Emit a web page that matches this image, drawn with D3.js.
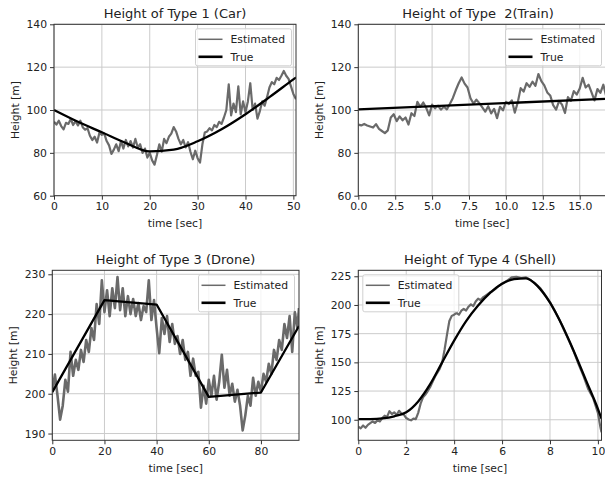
<!DOCTYPE html>
<html>
<head>
<meta charset="utf-8">
<script src="https://cdn.jsdelivr.net/npm/d3@7"></script>
<style>
    body{ margin:0; background:#fff; }
    text{ font-family:"DejaVu Sans", sans-serif; fill:#222; white-space:pre; }
</style>
</head>
<body>
<svg id="chart" width="605" height="478"></svg>
<script>
// ---- data ----
var carTrue = [[0,100],[5,94.5],[10,89.6],[15,84.6],[20,80.7],[25,81.5],[30,85.4],[35,91],[40,98],[45,106],[50,114.3],[50.55,115.2]];
var carEst = [
    [0,94.5],[0.5,93.2],[1,95],[1.5,92.5],[2,91],[2.5,94],[3,93.5],[3.5,95.8],[4,93],[4.5,94.8],
    [5,92.8],[5.5,95],[6,92],[6.5,90.8],[7,91.5],[7.5,88],[8,86],[8.5,87.5],[9,84.8],[9.5,89.5],
    [10,88.4],[10.5,89],[11,85.5],[11.5,83.5],[12,79.5],[12.5,81.5],[13,84],[13.5,80.8],[14,85.5],[14.5,82],
    [15,86],[15.5,83],[16,85.5],[16.5,82.5],[17,86.5],[17.5,82.5],[18,84],[18.5,80],[19,82],[19.5,77.8],
    [20,80],[20.5,76.5],[21,74.5],[21.5,79],[22,84],[22.5,80.5],[23,86.5],[23.5,84.5],[24,87.5],[24.5,89],
    [25,92],[25.5,90],[26,86.5],[26.5,84],[27,86],[27.5,82.5],[28,85],[28.5,80.5],[29,77],[29.5,81],
    [30,77.5],[30.5,75.5],[31,84],[31.5,89.5],[32,90],[32.5,91.5],[33,90.5],[33.5,93],[34,92],[34.5,94.5],
    [35,93.5],[35.5,96.5],[36,100],[36.5,112],[37,97.5],[37.5,103],[38,99],[38.5,111],[39,98],[39.5,104],
    [40,99],[40.5,104],[41,112.5],[41.5,100],[42,103],[42.5,96],[43,99.5],[43.5,104],[44,102],[44.5,106],
    [45,110.5],[45.5,113],[46,112],[46.5,115],[47,114],[47.5,116],[48,118.2],[48.5,116],[49,114.5],[49.5,111],
    [50,107.5],[50.55,105]
];

var trainTrue = [[0,100.3],[16.78,105.2]];
var trainEst = [
    [0,93.2],[0.2,92.8],[0.4,93.5],[0.6,92.8],[0.8,92.3],[1,91.8],[1.2,93.4],[1.4,91.2],[1.6,90.2],[1.8,89.2],
    [2,90.5],[2.2,96.5],[2.4,98],[2.6,94.8],[2.8,97],[3,95.2],[3.2,96.5],[3.4,93.2],[3.6,98.5],[3.8,97.2],
    [4,103.8],[4.2,101.5],[4.4,103.5],[4.6,101],[4.8,97.5],[5,102.5],[5.2,100.8],[5.4,102],[5.6,100.2],[5.8,101.5],
    [6,100.3],[6.2,102.8],[6.4,105.5],[6.6,109.2],[6.8,112.5],[7,115.2],[7.2,112.3],[7.4,110.5],[7.6,105.5],[7.8,103],
    [8,104.8],[8.2,103.2],[8.4,101.2],[8.6,99.2],[8.8,101.8],[9,98.4],[9.2,100.5],[9.4,96.2],[9.6,101.5],[9.8,99.8],
    [10,103.8],[10.2,102.8],[10.4,104.5],[10.6,98.8],[10.8,103.5],[11,110.2],[11.2,108.6],[11.4,112.5],[11.6,110.8],[11.8,113.2],
    [12,111.3],[12.2,116.8],[12.4,113.5],[12.6,111.5],[12.8,108.2],[13,106.8],[13.2,102.3],[13.4,100.2],[13.6,104.2],[13.8,102.5],
    [14,98.6],[14.2,106],[14.4,104.3],[14.6,108.8],[14.8,107.2],[15,110],[15.2,115],[15.4,110.5],[15.6,111.8],[15.8,108.2],
    [16,104.5],[16.2,109.8],[16.4,108],[16.6,111.8],[16.78,106.8]
];

var droneTrue = [[0,200.4],[20,223.5],[40,222.4],[60,199.2],[80,200.3],[94.6,217]];
var droneEst = [
    [0,200.5],[1,204.8],[2,199.5],[3,193.5],[4,197],[5,203.5],[6,200.5],[7,210.5],[8,204.5],[9,208.5],
    [10,206],[11,211],[12,208],[13,213.5],[14,210.5],[15,216.5],[16,213.5],[17,222.5],[18,217.5],[19,228.5],
    [20,220.5],[21,226],[22,219.5],[23,226.5],[24,221.5],[25,229.3],[26,221],[27,226.5],[28,219.5],[29,224.5],
    [30,220],[31,223.8],[32,219.5],[33,222.8],[34,218.5],[35,222],[36,220.5],[37,228.5],[38,218.5],[39,223.5],
    [40,216.5],[41,210.2],[42,219],[43,215],[44,219.5],[45,213],[46,217.5],[47,212.5],[48,214.5],[49,210],
    [50,213.5],[51,208.5],[52,210.5],[53,204.5],[54,208.8],[55,204.5],[56,205.5],[57,196.5],[58,202],[59,197.5],
    [60,203.5],[61,199.5],[62,204.5],[63,198.5],[64,203],[65,209.8],[66,201.5],[67,206],[68,199.5],[69,202.5],
    [70,198],[71,201],[72,197],[73,190.8],[74,194.5],[75,199.5],[76,197],[77,204],[78,199.5],[79,203],
    [80,200.5],[81,205],[82,203],[83,207.5],[84,205],[85,211],[86,208.5],[87,213.5],[88,211],[89,217.5],
    [90,214],[91,219.5],[92,210.5],[93,220.5],[94,216.5],[94.6,221.5]
];

var shellTrue = [[0,100.5],[0.5,100.6],[1,101.2],[1.5,103],[2,106.5],[2.5,116],[3,131],[3.5,150],[4,169],[4.5,186],
    [5,199.5],[5.5,210.5],[6,218.5],[6.5,222.5],[7,223.2],[7.5,216],[8,202],[8.5,182.5],[9,159.5],[9.5,134.5],
    [10,109.5],[10.15,101]];
var shellEst = [
    [0,94],[0.1,92.5],[0.2,95],[0.3,93],[0.4,95.5],[0.5,97],[0.6,98.5],[0.7,97.2],[0.8,99.5],[0.9,98.5],
    [1,101.5],[1.1,103.5],[1.2,102.5],[1.3,107.5],[1.4,105],[1.5,106.5],[1.6,104.2],[1.7,107.8],[1.8,105.5],[1.9,104.5],
    [2,101.5],[2.1,100.2],[2.2,99.5],[2.3,101],[2.4,100.5],[2.5,106],[2.6,114],[2.7,119.5],[2.8,122],[2.9,125],
    [3,128.5],[3.1,133],[3.2,137.5],[3.3,141],[3.4,144.5],[3.5,150],[3.6,161],[3.7,174],[3.8,186],[3.9,190.5],
    [4,191.5],[4.1,193],[4.2,191.5],[4.3,195],[4.4,196.5],[4.5,195.2],[4.6,198.5],[4.7,200.5],[4.8,199],[4.9,203],
    [5,205.5],[5.1,204.2],[5.2,206.5],[5.3,208],[5.4,209.5],[5.5,211],[5.6,212],[5.7,213.5],[5.8,215.5],[5.9,217],
    [6,218.5],[6.2,221],[6.4,224],[6.6,224.5],[6.8,223.5],[7,224],[7.2,221.5],[7.4,218.5],[7.6,214.5],[7.8,208.5],
    [8,202.5],[8.2,195],[8.4,187],[8.6,177.5],[8.8,168.5],[9,159],[9.2,148],[9.4,138],[9.6,126.5],[9.8,119],
    [10,106],[10.1,94],[10.15,89]
];

var carXTicks = [0, 10, 20, 30, 40, 50];
var carYTicks = [60, 80, 100, 120, 140];
var trainXTicks = [0, 2.5, 5, 7.5, 10, 12.5, 15];
var droneXTicks = [0, 20, 40, 60, 80];
var droneYTicks = [190, 200, 210, 220, 230];
var shellXTicks = [0, 2, 4, 6, 8, 10];
var shellYTicks = [100, 125, 150, 175, 200, 225];

var legendNames = ['Estimated', 'True'];

// ---- drawing ----
var svg = d3.select('#chart');
var EST_COLOR = '#6a6a6a',
    GRID_COLOR = '#cbcbcb',
    FONT = 10.8;

function drawPanel( p, idx ){
    var b = p.box,
        x = d3.scaleLinear().domain( p.xDomain ).range( [b.left, b.right] ),
        y = d3.scaleLinear().domain( p.yDomain ).range( [b.bottom, b.top] ),
        g = svg.append( 'g' ),
        clipId = 'clip' + idx;

    svg.append( 'clipPath' ).attr( 'id', clipId )
        .append( 'rect' )
        .attr( 'x', b.left ).attr( 'y', b.top )
        .attr( 'width', b.right - b.left ).attr( 'height', b.bottom - b.top );

    // grid
    g.append( 'g' ).selectAll( 'line' ).data( p.xTicks ).enter().append( 'line' )
        .attr( 'x1', function( d ){ return x(d); } ).attr( 'x2', function( d ){ return x(d); } )
        .attr( 'y1', b.top ).attr( 'y2', b.bottom )
        .attr( 'stroke', GRID_COLOR ).attr( 'stroke-width', 1 );
    g.append( 'g' ).selectAll( 'line' ).data( p.yTicks ).enter().append( 'line' )
        .attr( 'y1', function( d ){ return y(d); } ).attr( 'y2', function( d ){ return y(d); } )
        .attr( 'x1', b.left ).attr( 'x2', b.right )
        .attr( 'stroke', GRID_COLOR ).attr( 'stroke-width', 1 );

    var line = d3.line()
        .x( function( d ){ return x(d[0]); } )
        .y( function( d ){ return y(d[1]); } );

    var plot = g.append( 'g' ).attr( 'clip-path', 'url(#' + clipId + ')' );
    plot.append( 'path' ).datum( p.est )
        .attr( 'd', line )
        .attr( 'fill', 'none' ).attr( 'stroke', EST_COLOR )
        .attr( 'stroke-width', p.estWidth || 2.2 ).attr( 'stroke-linejoin', 'round' );
    plot.append( 'path' ).datum( p.truth )
        .attr( 'd', line.curve( p.smooth ? d3.curveMonotoneX : d3.curveLinear ) )
        .attr( 'fill', 'none' ).attr( 'stroke', '#000' )
        .attr( 'stroke-width', 2.3 ).attr( 'stroke-linejoin', 'round' );

    // frame
    g.append( 'rect' )
        .attr( 'x', b.left ).attr( 'y', b.top )
        .attr( 'width', b.right - b.left ).attr( 'height', b.bottom - b.top )
        .attr( 'fill', 'none' ).attr( 'stroke', '#333' ).attr( 'stroke-width', 1 );

    // axes
    var xAxis = g.append( 'g' )
        .attr( 'transform', 'translate(0,' + b.bottom + ')' )
        .call( d3.axisBottom( x ).tickValues( p.xTicks ).tickFormat( p.xFormat ).tickSize( 4 ).tickPadding( 3 ) );
    var yAxis = g.append( 'g' )
        .attr( 'transform', 'translate(' + b.left + ',0)' )
        .call( d3.axisLeft( y ).tickValues( p.yTicks ).tickFormat( d3.format( 'd' ) ).tickSize( 4 ).tickPadding( 3 ) );
    [xAxis, yAxis].forEach( function( a ){
        a.select( '.domain' ).remove();
        a.selectAll( 'line' ).attr( 'stroke', '#333' );
        a.selectAll( 'text' ).style( 'font-size', FONT + 'px' ).attr( 'fill', '#222' )
            .style( 'font-family', '"DejaVu Sans", sans-serif' );
    } );

    // titles and labels
    g.append( 'text' )
        .attr( 'x', p.titleX ).attr( 'y', b.top - 6.5 )
        .attr( 'text-anchor', 'middle' ).style( 'font-size', '13px' )
        .attr( 'xml:space', 'preserve' )
        .text( p.title );
    g.append( 'text' )
        .attr( 'x', ( b.left + b.right ) / 2 ).attr( 'y', b.bottom + 31.5 )
        .attr( 'text-anchor', 'middle' ).style( 'font-size', FONT + 'px' )
        .text( 'time [sec]' );
    g.append( 'text' )
        .attr( 'transform', 'translate(' + ( b.left - 35.5 ) + ',' + ( ( b.top + b.bottom ) / 2 ) + ') rotate(-90)' )
        .attr( 'text-anchor', 'middle' ).style( 'font-size', FONT + 'px' )
        .text( 'Height [m]' );

    // legend
    var lw = 96, lh = 37,
        lx = p.legendLeft ? b.left + 4.5 : b.right - 4.5 - lw,
        ly = b.top + 4.5,
        lg = g.append( 'g' ).attr( 'transform', 'translate(' + lx + ',' + ly + ')' );
    lg.append( 'rect' )
        .attr( 'width', lw ).attr( 'height', lh ).attr( 'rx', 2 )
        .attr( 'fill', '#fff' ).attr( 'fill-opacity', 0.8 )
        .attr( 'stroke', '#d0d0d0' ).attr( 'stroke-width', 1 );
    legendNames.forEach( function( name, i ){
        var yy = 10.5 + i * 17.5;
        lg.append( 'line' )
            .attr( 'x1', 3 ).attr( 'x2', 27 ).attr( 'y1', yy ).attr( 'y2', yy )
            .attr( 'stroke', i ? '#000' : EST_COLOR )
            .attr( 'stroke-width', i ? 2.6 : 1.5 );
        lg.append( 'text' )
            .attr( 'x', 35 ).attr( 'y', yy + 4 )
            .style( 'font-size', FONT + 'px' )
            .text( name );
    } );
}

var panels = [
    { title: 'Height of Type 1 (Car)', titleX: 175,
      box: { left: 54, right: 296, top: 24.3, bottom: 195.7 },
      xDomain: [0, 50.55], yDomain: [60, 140], xTicks: carXTicks, yTicks: carYTicks,
      xFormat: d3.format( 'd' ), est: carEst, truth: carTrue, smooth: true },
    { title: 'Height of Type  2(Train)', titleX: 478,
      box: { left: 358.3, right: 606, top: 24.3, bottom: 195.7 },
      xDomain: [0, 16.78], yDomain: [60, 140], xTicks: trainXTicks, yTicks: carYTicks,
      xFormat: d3.format( '.1f' ), est: trainEst, truth: trainTrue },
    { title: 'Height of Type 3 (Drone)', titleX: 175.6,
      box: { left: 52.3, right: 299, top: 270.3, bottom: 440.3 },
      xDomain: [0, 94.6], yDomain: [188.3, 231], xTicks: droneXTicks, yTicks: droneYTicks,
      xFormat: d3.format( 'd' ), est: droneEst, truth: droneTrue, estWidth: 2.6 },
    { title: 'Height of Type 4 (Shell)', titleX: 480,
      box: { left: 358.3, right: 601.5, top: 270.3, bottom: 440.3 },
      xDomain: [0, 10.15], yDomain: [82.1, 230.2], xTicks: shellXTicks, yTicks: shellYTicks,
      xFormat: d3.format( 'd' ), est: shellEst, truth: shellTrue, smooth: true, legendLeft: true }
];

panels.forEach( drawPanel );
</script>
</body>
</html>
